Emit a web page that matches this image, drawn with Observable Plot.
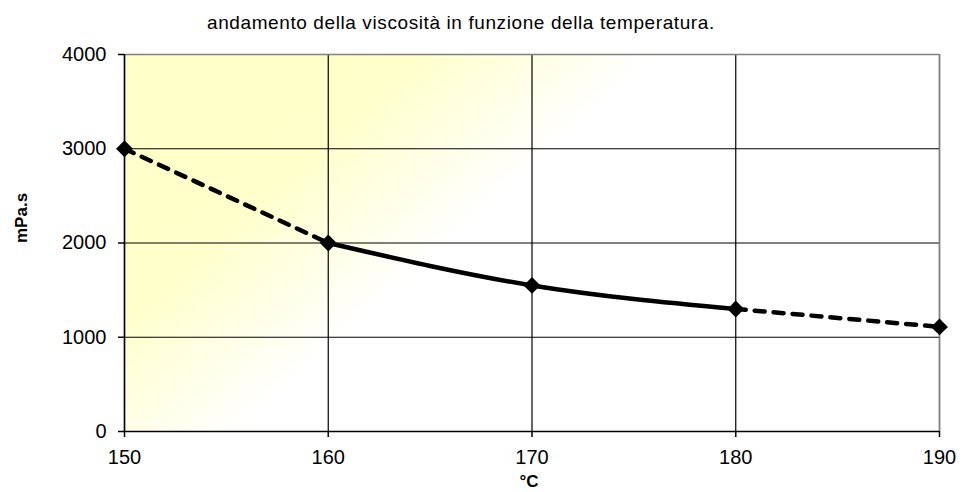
<!DOCTYPE html>
<html><head><meta charset="utf-8">
<script src="https://cdn.jsdelivr.net/npm/d3@7"></script>
<script src="https://cdn.jsdelivr.net/npm/@observablehq/plot@0.6"></script>
<style>
body{margin:0;background:#fff;font-family:"Liberation Sans",Arial,sans-serif}
#title{height:28px;padding:12px 0 0 207px;font-size:19px;line-height:22px;letter-spacing:0.6px;color:#000;box-sizing:content-box;white-space:nowrap}
</style></head><body>
<div id="title">andamento della viscosità in funzione della temperatura.</div>
<div id="chart"></div>
<script>
const temperatures = [150, 160, 170, 180, 190];
const viscosity = [3000, 2000, 1550, 1300, 1110];
const xTicks = [150, 160, 170, 180, 190];
const yTicks = [0, 1000, 2000, 3000, 4000];
const xLabel = "°C";
const yLabel = "mPa.s";

const data = temperatures.map((t, i) => ({t, v: viscosity[i]}));
const seg1 = data.slice(0, 2), seg2 = data.slice(1, 4), seg3 = data.slice(3, 5);

const chart = Plot.plot({
  width: 964, height: 452,
  marginLeft: 124, marginRight: 25, marginTop: 14, marginBottom: 61,
  style: {fontFamily: "Liberation Sans, Arial, sans-serif", fontSize: "20px", background: "transparent", color: "#000", overflow: "visible"},
  x: {domain: [150, 190]},
  y: {domain: [0, 4000]},
  marks: [
    Plot.frame({fill: "url(#bgGrad)", stroke: "none"}),
    Plot.gridX(xTicks, {stroke: "#000", strokeOpacity: 1, strokeWidth: 1.2}),
    Plot.gridY(yTicks, {stroke: "#000", strokeOpacity: 1, strokeWidth: 1.2}),
    Plot.ruleX([190], {stroke: "#808080", strokeWidth: 1.5}),
    Plot.ruleY([4000], {stroke: "#808080", strokeWidth: 1.5}),
    Plot.ruleX([150], {stroke: "#000", strokeWidth: 1.5}),
    Plot.ruleY([0], {stroke: "#000", strokeWidth: 1.5}),
    Plot.axisX(xTicks, {tickSize: 6, tickPadding: 12, fontSize: 20, tickFormat: "d", label: null, stroke: "#000", strokeWidth: 1.5, letterSpacing: 1}),
    Plot.axisY(yTicks, {tickSize: 6, tickPadding: 12, fontSize: 20, tickFormat: "d", label: null, stroke: "#000", strokeWidth: 1.5, letterSpacing: 1}),
    Plot.line(seg1, {x: "t", y: "v", stroke: "#000", strokeWidth: 4.5, strokeDasharray: "10,9", strokeLinecap: "round"}),
    Plot.line(seg2, {x: "t", y: "v", stroke: "#000", strokeWidth: 4.5, curve: "monotone-x"}),
    Plot.line(seg3, {x: "t", y: "v", stroke: "#000", strokeWidth: 4.5, strokeDasharray: "10,9", strokeLinecap: "round"}),
    Plot.dot(data, {x: "t", y: "v", symbol: "diamond2", r: 7.6, fill: "#000", stroke: "none"}),
    Plot.text([xLabel], {frameAnchor: "bottom", dy: 50, fontWeight: "bold", fontSize: 17, lineAnchor: "middle", dx: -3}),
    Plot.text([yLabel], {frameAnchor: "left", dx: -103, rotate: -90, fontWeight: "bold", fontSize: 17, lineAnchor: "middle"})
  ]
});

const svg = d3.select(chart);
const defs = svg.insert("defs", ":first-child");
const g = defs.append("linearGradient").attr("id", "bgGrad")
  .attr("gradientUnits", "userSpaceOnUse")
  .attr("x1", 124).attr("y1", 14).attr("x2", 362).attr("y2", 280);
g.append("stop").attr("offset", 0).attr("stop-color", "#ffffc8");
g.append("stop").attr("offset", 0.55).attr("stop-color", "#ffffcb");
g.append("stop").attr("offset", 0.82).attr("stop-color", "#ffffea");
g.append("stop").attr("offset", 1).attr("stop-color", "#ffffff");
document.getElementById("chart").appendChild(chart);
</script>
</body></html>
